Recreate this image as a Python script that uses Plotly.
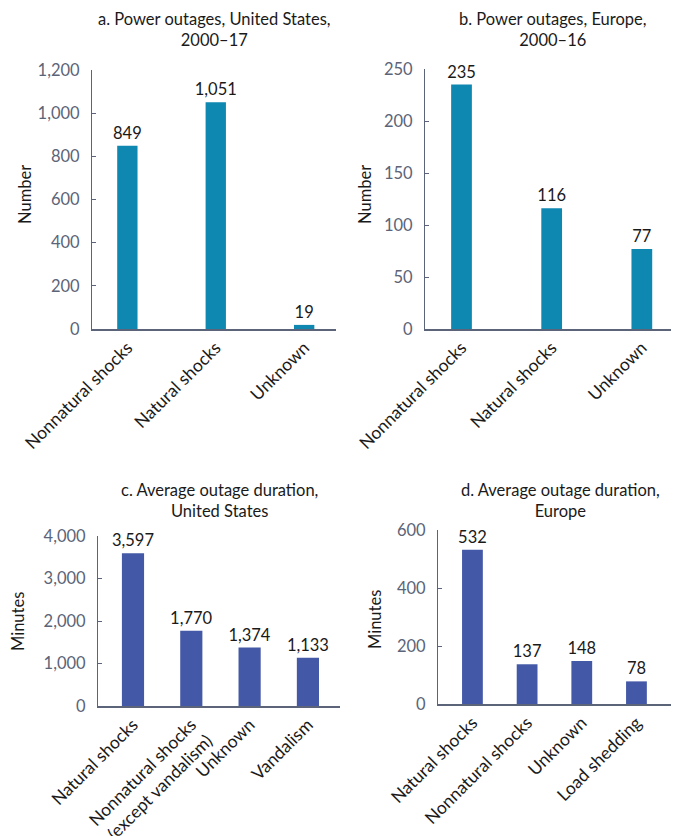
import plotly.graph_objects as go

# Page body has an 8px default margin, so the figure is drawn inside it.
OFF = 8
W, H = 679 - OFF, 836 - OFF

# ---- Data ----
cats_a = ["Nonnatural shocks", "Natural shocks", "Unknown"]
vals_a = [849, 1051, 19]

cats_b = ["Nonnatural shocks", "Natural shocks", "Unknown"]
vals_b = [235, 116, 77]

cats_c = ["Natural shocks", "Nonnatural shocks<br>(except vandalism)", "Unknown", "Vandalism"]
vals_c = [3597, 1770, 1374, 1133]

cats_d = ["Natural shocks", "Nonnatural shocks", "Unknown", "Load shedding"]
vals_d = [532, 137, 148, 78]

titles = [
    "a. Power outages, United States,<br>2000–17",
    "b. Power outages, Europe,<br>2000–16",
    "c. Average outage duration,<br>United States",
    "d. Average outage duration,<br>Europe",
]

TEAL = "#0E87B1"
BLUE = "#4358A6"
AXIS = "#5B6478"
FONT = "Lato, 'Open Sans', sans-serif"

def fx(px):
    return (px - OFF) / W

def fy(py):
    return (H - (py - OFF)) / H

def px_x(x0, x1):
    return [fx(x0), min(fx(x1), 1)]

def px_y(top, bottom):
    return [fy(bottom), fy(top)]

panels = [
    dict(cats=cats_a, vals=vals_a, color=TEAL, xd=px_x(92, 336), yd=px_y(70, 329),
         xr=[-0.4, 2.36], yr=[0, 1200], dtick=200, width=0.23,
         title=titles[0], tx=214, ty=29, ytitle="Number", ytx=25, yty=195),
    dict(cats=cats_b, vals=vals_b, color=TEAL, xd=px_x(425, 677), yd=px_y(69, 329),
         xr=[-0.405, 2.39], yr=[0, 250], dtick=50, width=0.23,
         title=titles[1], tx=553, ty=29, ytitle="Number", ytx=365, yty=195),
    dict(cats=cats_c, vals=vals_c, color=BLUE, xd=px_x(98, 340), yd=px_y(536, 706),
         xr=[-0.6, 3.55], yr=[0, 4000], dtick=1000, width=0.38,
         title=titles[2], tx=219, ty=500, ytitle="Minutes", ytx=18, yty=622),
    dict(cats=cats_d, vals=vals_d, color=BLUE, xd=px_x(438, 678), yd=px_y(530, 704),
         xr=[-0.63, 3.76], yr=[0, 600], dtick=200, width=0.38,
         title=titles[3], tx=560, ty=500, ytitle="Minutes", ytx=375, yty=620),
]

fig = go.Figure()
annotations = []
layout = {}
for i, p in enumerate(panels, start=1):
    sfx = "" if i == 1 else str(i)
    fig.add_trace(go.Bar(
        x=list(range(len(p["cats"]))), y=p["vals"],
        marker=dict(color=p["color"], line=dict(width=0)),
        width=p["width"],
        text=[f"{v:,}" for v in p["vals"]],
        textposition="outside", cliponaxis=False, constraintext="none",
        textfont=dict(size=16.5, color="#1a1a1a", family=FONT),
        xaxis="x" + sfx, yaxis="y" + sfx, showlegend=False,
    ))
    layout["xaxis" + sfx] = dict(
        domain=p["xd"], range=p["xr"], anchor="y" + sfx, automargin=False,
        tickmode="array", tickvals=list(range(len(p["cats"]))), ticktext=p["cats"],
        tickangle=-45, showline=True, linecolor=AXIS, linewidth=1.5,
        ticks="", showgrid=False, zeroline=False,
        tickfont=dict(size=17.5, color="#1a1a1a", family=FONT),
    )
    layout["yaxis" + sfx] = dict(
        domain=p["yd"], range=p["yr"], anchor="x" + sfx, dtick=p["dtick"], automargin=False,
        tickformat=",", showline=True, linecolor=AXIS, linewidth=1.2,
        ticks="inside", ticklen=4, tickcolor=AXIS, showgrid=False, zeroline=False,
        tickfont=dict(size=16.5, color=AXIS, family=FONT), ticklabelstandoff=8,
    )
    annotations.append(dict(
        text=p["title"], x=fx(p["tx"]), y=fy(p["ty"]), xref="paper", yref="paper",
        showarrow=False, xanchor="center", yanchor="middle",
        font=dict(size=16.5, color="#1a1a1a", family=FONT),
    ))
    annotations.append(dict(
        text=p["ytitle"], x=fx(p["ytx"]), y=fy(p["yty"]), xref="paper", yref="paper",
        showarrow=False, xanchor="center", yanchor="middle", textangle=-90,
        font=dict(size=16.5, color="#1a1a1a", family=FONT),
    ))

fig.update_layout(
    width=W, height=H, margin=dict(l=0, r=0, t=0, b=0, autoexpand=False),
    paper_bgcolor="white", plot_bgcolor="white",
    annotations=annotations, font=dict(family=FONT), **layout,
)

fig.write_html("out.html")
